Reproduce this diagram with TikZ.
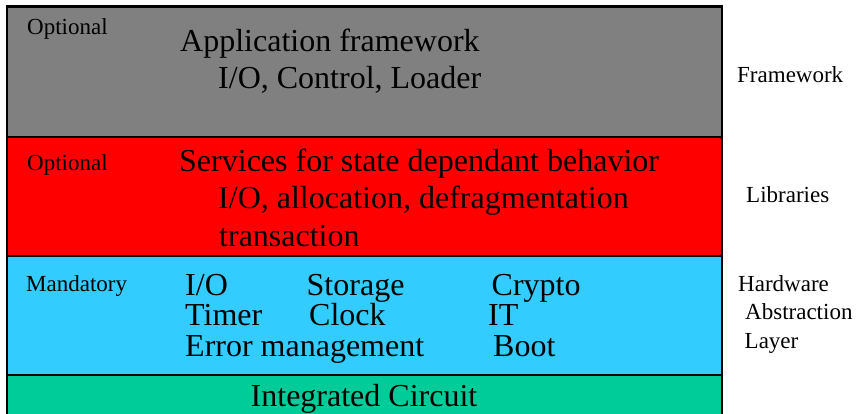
\documentclass[tikz,border=0pt]{standalone}
\usepackage{fontspec}
\setmainfont{Liberation Serif}
\definecolor{fwgray}{HTML}{808080}
\definecolor{libred}{HTML}{FF0000}
\definecolor{halcyan}{HTML}{33CCFF}
\definecolor{icgreen}{HTML}{00CC99}
\begin{document}
\begin{tikzpicture}[x=1pt,y=-1pt,
  layerbox/.style={draw=black, line width=2.5pt},
  big/.style={font=\fontsize{32}{38}\selectfont, inner sep=0pt, anchor=base west},
  small/.style={font=\fontsize{23}{28}\selectfont, inner sep=0pt, anchor=base west}]
\useasboundingbox (0,0) rectangle (857,413);
\clip (0,0) rectangle (857,413);
% layer stack
\filldraw[layerbox, fill=icgreen]  (7,375) rectangle (722,430);
\filldraw[layerbox, fill=halcyan]  (7,256) rectangle (722,375);
\filldraw[layerbox, fill=libred]   (7,137) rectangle (722,256);
\filldraw[layerbox, fill=fwgray]   (7,6.5) rectangle (722,137);

% framework layer
\node[small] (fwopt) at (27,34.5) {Optional};
\node[big] (fwt1) at (180,51) {Application framework};
\node[big] (fwt2) at (218,88.5) {I/O, Control, Loader};

% library layer
\node[small] (libopt) at (27,170.5) {Optional};
\node[big] (libt1) at (179,171) {Services for state dependant behavior};
\node[big] (libt2) at (218,208.5) {I/O, allocation, defragmentation};
\node[big] (libt3) at (219,246) {transaction};

% hardware abstraction layer
\node[small] (halmand) at (26,291) {Mandatory};
\node[big] (io)      at (185,295.5) {I/O};
\node[big] (storage) at (306.5,295.5) {Storage};
\node[big] (crypto)  at (491.5,295.5) {Crypto};
\node[big] (timer)   at (185,325.5) {Timer};
\node[big] (clock)   at (309,325.5) {Clock};
\node[big] (it)      at (488,325.5) {IT};
\node[big] (err)     at (185,356) {Error management};
\node[big] (boot)    at (493,356) {Boot};

% integrated circuit
\node[big] (ic) at (250.5,406) {Integrated Circuit};

% side labels
\node[small] (lfw)  at (737,82.5) {Framework};
\node[small] (llib) at (746,202) {Libraries};
\node[small] (lhw1) at (738,291) {Hardware};
\node[small] (lhw2) at (745,319.5) {Abstraction};
\node[small] (lhw3) at (744.5,348.5) {Layer};
\end{tikzpicture}
\end{document}
